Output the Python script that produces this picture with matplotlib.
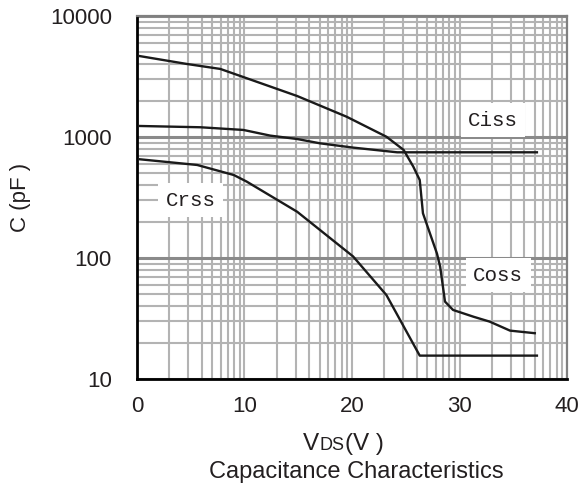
import numpy as np
import matplotlib.pyplot as plt
from matplotlib.ticker import FixedLocator, NullFormatter
from matplotlib.transforms import IdentityTransform

plt.rcParams['font.family'] = ['Liberation Sans', 'DejaVu Sans']

# Ciss: flat part above, Coss: the steep drop, Crss: lowest curve
vds_ciss = [0.2, 5.9, 9.9, 12.4, 14.9, 17.0, 20.1, 24.2, 37.2]
ciss = [1233, 1203, 1143, 1026, 962, 887, 817, 747, 747]

vds_coss = [0.2, 4.65, 7.75, 14.9, 19.5, 23.2, 24.8, 25.7, 26.3, 26.6, 27.9,
            28.2, 28.65, 29.4, 31.3, 32.8, 34.7, 37.0]
coss = [4670, 4010, 3650, 2180, 1470, 1005, 782, 569, 441, 234, 109,
        84.7, 43.6, 37.2, 32.7, 29.8, 25.1, 23.9]

vds_crss = [0.2, 5.6, 9.0, 10.2, 13.0, 14.9, 20.1, 23.2, 26.3, 37.2]
crss = [655, 587, 485, 428, 304, 241, 103, 49.4, 15.6, 15.6]

x_ticks = [0, 10, 20, 30, 40]
y_ticks = [10, 100, 1000, 10000]

fig = plt.figure(figsize=(5.78, 4.99), dpi=100)
ax = fig.add_axes([0.237, 0.2405, 0.744, 0.7275])

ax.set_yscale('log')
ax.set_xlim(0, 40)
ax.set_ylim(10, 10000)

# vertical grid repeats a log decade pattern every 10 V
minor_x = [10 * d + 10 * np.log10(k) for d in range(4) for k in range(2, 10)]
ax.xaxis.set_major_locator(FixedLocator(x_ticks))
ax.xaxis.set_minor_locator(FixedLocator(minor_x))
ax.xaxis.set_minor_formatter(NullFormatter())
ax.yaxis.set_major_locator(FixedLocator(y_ticks))
ax.yaxis.set_minor_locator(FixedLocator(
    [m * 10 ** e for e in range(1, 4) for m in range(2, 10)]))
ax.yaxis.set_minor_formatter(NullFormatter())
ax.set_xticklabels([str(v) for v in x_ticks])
ax.set_yticklabels([str(v) for v in y_ticks])

ax.grid(axis='x', which='both', color='#b3b3b3', lw=1.5)
ax.grid(axis='y', which='minor', color='#b3b3b3', lw=1.5)
ax.grid(axis='y', which='major', color='#8a8a8a', lw=2.2)
ax.set_axisbelow(True)

ax.tick_params(which='both', length=0)
ax.tick_params(axis='x', pad=12, labelsize=16, labelcolor='#231f20')
ax.tick_params(axis='y', pad=18, labelsize=16, labelcolor='#231f20')

for s in ['left', 'bottom']:
    ax.spines[s].set_color('black')
    ax.spines[s].set_linewidth(2.0)
for s in ['top', 'right']:
    ax.spines[s].set_color('#808080')
    ax.spines[s].set_linewidth(1.6)

for v, c in [(vds_ciss, ciss), (vds_coss, coss), (vds_crss, crss)]:
    ax.plot(v, c, color='#1a1a1a', lw=1.7, zorder=3)

box = dict(facecolor='white', edgecolor='none', boxstyle='square,pad=0.35')
mono = ['Liberation Mono', 'DejaVu Sans Mono']
ax.text(33.1, 1380, 'Ciss', family=mono, fontsize=15, color='#231f20',
        ha='center', va='center', bbox=box, zorder=2)
ax.text(5.0, 301, 'Crss', family=mono, fontsize=15, color='#231f20',
        ha='center', va='center', bbox=box, zorder=2)
ax.text(33.6, 72, 'Coss', family=mono, fontsize=15, color='#231f20',
        ha='center', va='center', bbox=box, zorder=2)

ax.set_ylabel('C (pF )', fontsize=16, color='#231f20', labelpad=14)

# axis title with small-caps style "DS"
t1 = fig.text(303 / 578, 1 - 444 / 499, 'V', fontsize=17.5, color='#231f20',
              ha='left', va='center')
fig.canvas.draw()
r = fig.canvas.get_renderer()
bb1 = t1.get_window_extent(r)
t2 = fig.text(bb1.x1, bb1.y0 + 1, 'DS', fontsize=13, color='#231f20',
              ha='left', va='bottom', transform=IdentityTransform())
fig.canvas.draw()
bb2 = t2.get_window_extent(r)
fig.text(bb2.x1 + 1, bb1.y0, '(V )', fontsize=17.5, color='#231f20',
         ha='left', va='bottom', transform=IdentityTransform())

fig.text(356 / 578, 1 - 472 / 499, 'Capacitance Characteristics', fontsize=17,
         color='#231f20', ha='center', va='center')

fig.savefig('out.png', dpi=100)
